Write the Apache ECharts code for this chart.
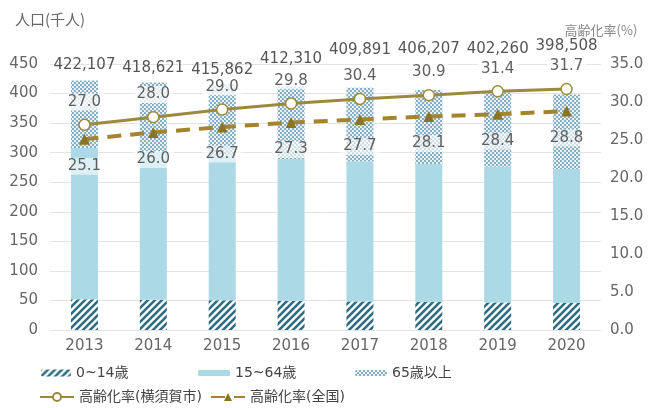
<!DOCTYPE html>
<html>
<head>
<meta charset="utf-8">
<script src="https://cdn.jsdelivr.net/npm/echarts@6/dist/echarts.min.js"></script>
<style>
  html, body { margin: 0; padding: 0; background: #fff; }
  #chart { width: 648px; height: 408px; }
</style>
</head>
<body>
<div id="chart"></div>
<script>
// 横須賀市の年齢3区分別人口（千人）と高齢化率（%）
const years = ['2013', '2014', '2015', '2016', '2017', '2018', '2019', '2020'];
const totalPop = [422107, 418621, 415862, 412310, 409891, 406207, 402260, 398508];
const popUnder15 = [51.9, 51.0, 50.2, 49.3, 48.4, 47.5, 46.6, 45.8];
const pop15to64 = [256.2, 250.4, 245.1, 240.1, 236.9, 233.2, 229.4, 226.4];
const pop65Plus = [114.0, 117.2, 120.6, 122.9, 124.6, 125.5, 126.3, 126.3];
const agingRateCity = [27.0, 28.0, 29.0, 29.8, 30.4, 30.9, 31.4, 31.7];
const agingRateNation = [25.1, 26.0, 26.7, 27.3, 27.7, 28.1, 28.4, 28.8];

// extra lift for the total labels so they clear the rate labels
const totalLabelLift = [8, 7, 7, 20, 30, 33, 36, 41];

const FONT = '"DejaVu Sans", "Noto Sans CJK JP", sans-serif';
const JP_FONT = '"Noto Sans CJK JP", "Noto Sans", sans-serif';

function hatchPattern() {
  const c = document.createElement('canvas');
  c.width = 7; c.height = 7;
  const g = c.getContext('2d');
  g.fillStyle = '#ffffff';
  g.fillRect(0, 0, 7, 7);
  g.strokeStyle = '#2f6d82';
  g.lineWidth = 2.6;
  g.beginPath();
  g.moveTo(-1, 8); g.lineTo(8, -1);
  g.moveTo(-4.5, 4.5); g.lineTo(4.5, -4.5);
  g.moveTo(2.5, 11.5); g.lineTo(11.5, 2.5);
  g.stroke();
  return c;
}

function checkerPattern() {
  const c = document.createElement('canvas');
  c.width = 4; c.height = 4;
  const g = c.getContext('2d');
  g.fillStyle = '#e8f2f6';
  g.fillRect(0, 0, 4, 4);
  g.fillStyle = '#88aec4';
  g.fillRect(0, 0, 2, 2);
  g.fillRect(2, 2, 2, 2);
  return c;
}

const chart = echarts.init(document.getElementById('chart'), null, { renderer: 'canvas' });

const legendBase = {
  orient: 'horizontal',
  itemGap: 10,
  textStyle: { fontFamily: FONT, fontSize: 14, color: '#444' },
  selectedMode: false
};

chart.setOption({
  animation: false,
  textStyle: { fontFamily: FONT },
  grid: { left: 50, right: 47, top: 64, bottom: 78 },
  legend: [
    Object.assign({}, legendBase, { data: ['0~14歳'], left: 36, top: 361, itemWidth: 30, itemHeight: 7 }),
    Object.assign({}, legendBase, { data: ['15~64歳'], left: 193, top: 361, itemWidth: 32, itemHeight: 6 }),
    Object.assign({}, legendBase, { data: ['65歳以上'], left: 350, top: 361, itemWidth: 32, itemHeight: 6 }),
    Object.assign({}, legendBase, { data: ['高齢化率(横須賀市)'], left: 34, top: 385, itemWidth: 34, itemHeight: 10 }),
    Object.assign({}, legendBase, { data: ['高齢化率(全国)'], left: 205, top: 385, itemWidth: 34, itemHeight: 10 })
  ],
  xAxis: {
    type: 'category',
    data: years,
    axisLine: { show: false },
    axisTick: { show: false },
    axisLabel: { color: '#666', fontSize: 15, margin: 9, fontFamily: FONT }
  },
  yAxis: [
    {
      type: 'value',
      min: 0, max: 450, interval: 50,
      name: '人口(千人)',
      nameLocation: 'end',
      nameGap: 37,
      nameTextStyle: { color: '#666', fontSize: 15, fontFamily: JP_FONT },
      axisLine: { show: false },
      axisTick: { show: false },
      axisLabel: { color: '#666', fontSize: 15, margin: 12, fontFamily: FONT },
      splitLine: { lineStyle: { color: '#e4e4e4', width: 1 } }
    },
    {
      type: 'value',
      min: 0, max: 35, interval: 5,
      name: '高齢化率(%)',
      nameLocation: 'end',
      nameGap: 27,
      nameTextStyle: { color: '#888', fontSize: 13, fontFamily: JP_FONT },
      axisLine: { show: false },
      axisTick: { show: false },
      axisLabel: { color: '#666', fontSize: 15, margin: 9, fontFamily: FONT, formatter: v => v.toFixed(1) },
      splitLine: { show: false }
    }
  ],
  series: [
    {
      name: '0~14歳', type: 'bar', stack: 'pop', barWidth: 27,
      data: popUnder15,
      itemStyle: { color: { image: hatchPattern(), repeat: 'repeat' } }
    },
    {
      name: '15~64歳', type: 'bar', stack: 'pop', barWidth: 27,
      data: pop15to64,
      itemStyle: { color: '#abdae6' }
    },
    {
      name: '65歳以上', type: 'bar', stack: 'pop', barWidth: 27,
      data: pop65Plus.map((v, i) => ({
        value: v,
        label: { distance: totalLabelLift[i] }
      })),
      itemStyle: { color: { image: checkerPattern(), repeat: 'repeat' } },
      label: {
        show: true, position: 'top',
        color: '#555', fontSize: 15, fontFamily: FONT,
        formatter: p => totalPop[p.dataIndex].toLocaleString('en-US')
      }
    },
    {
      name: '高齢化率(横須賀市)', type: 'line', yAxisIndex: 1,
      data: agingRateCity,
      z: 5,
      symbol: 'circle', symbolSize: 11,
      lineStyle: { color: '#9c8a3c', width: 3 },
      itemStyle: { color: '#ffffff', borderColor: '#9c8a3c', borderWidth: 1.5 },
      label: {
        show: true, position: 'top', distance: 8,
        color: '#5f5f5f', fontSize: 15, fontFamily: FONT,
        backgroundColor: 'rgba(255,255,255,0.75)', padding: [1, 3],
        formatter: p => p.value.toFixed(1)
      }
    },
    {
      name: '高齢化率(全国)', type: 'line', yAxisIndex: 1,
      data: agingRateNation,
      z: 5,
      symbol: 'triangle', symbolSize: 11,
      lineStyle: { color: '#a4842f', width: 4, type: [14, 9] },
      itemStyle: { color: '#8c7427' },
      label: {
        show: true, position: 'bottom', distance: 13,
        color: '#5f5f5f', fontSize: 15, fontFamily: FONT,
        backgroundColor: 'rgba(255,255,255,0.6)', padding: [1, 3],
        formatter: p => p.value.toFixed(1)
      }
    }
  ]
});
</script>
</body>
</html>
